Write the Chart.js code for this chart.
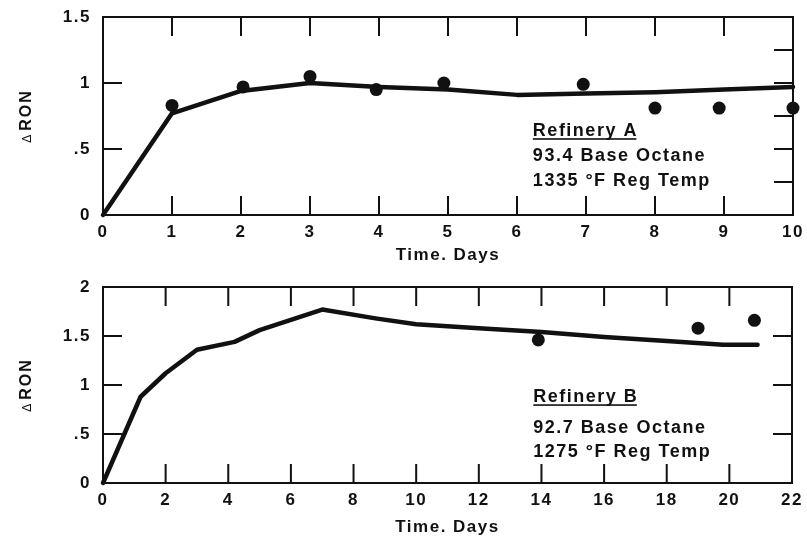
<!DOCTYPE html>
<html>
<head>
    <title>ΔRON vs Time</title>
    <script src="https://cdn.jsdelivr.net/npm/chart.js"></script>
    <style>
        body {
            margin: 0;
            background: #fff;
            width: 807px;
            height: 543px;
            overflow: hidden;
        }

        .chart-box {
            position: absolute;
            left: 0;
            width: 807px;
        }

        #box-a { top: 0; height: 270px; }
        #box-b { top: 270px; height: 273px; }
    </style>
</head>
<body>
    <div class="chart-box" id="box-a"><canvas id="chart-a" width="807" height="270"></canvas></div>
    <div class="chart-box" id="box-b"><canvas id="chart-b" width="807" height="273"></canvas></div>

    <script>
        // Refinery A - fitted curve and measured points
        const curveDaysA = [0, 1, 2, 3, 4, 5, 6, 7, 8, 9, 10];
        const curveRonA = [0, 0.77, 0.94, 1.0, 0.97, 0.95, 0.91, 0.92, 0.93, 0.95, 0.97];
        const pointDaysA = [1, 2.03, 3, 3.96, 4.94, 6.96, 8, 8.93, 10];
        const pointRonA = [0.83, 0.97, 1.05, 0.95, 1.0, 0.99, 0.81, 0.81, 0.81];
        const xTicksA = [0, 1, 2, 3, 4, 5, 6, 7, 8, 9, 10];
        const yTicksA = [0, 0.5, 1, 1.5];
        const yLabelsA = ['0', '.5', '1', '1.5'];
        const rightMarksA = [0.25, 0.5, 0.75, 1, 1.25];
        const notesA = ['Refinery A', '93.4 Base Octane', '1335 °F Reg Temp'];

        // Refinery B
        const curveDaysB = [0, 1.2, 2, 3, 4.2, 5, 7, 8.7, 10, 12, 14, 16, 18, 19.8, 20.9];
        const curveRonB = [0, 0.88, 1.12, 1.36, 1.44, 1.56, 1.77, 1.68, 1.62, 1.58, 1.54, 1.49, 1.45, 1.41, 1.41];
        const pointDaysB = [13.9, 19, 20.8];
        const pointRonB = [1.46, 1.58, 1.66];
        const xTicksB = [0, 2, 4, 6, 8, 10, 12, 14, 16, 18, 20, 22];
        const yTicksB = [0, 0.5, 1, 1.5, 2];
        const yLabelsB = ['0', '.5', '1', '1.5', '2'];
        const rightMarksB = [0.5, 1, 1.5];
        const notesB = ['Refinery B', '92.7 Base Octane', '1275 °F Reg Temp'];

        const FONT = '"Liberation Sans", Arial, sans-serif';
        const INK = '#111';
        const SPACING = '1.5px';

        const toPoints = (xs, ys) => xs.map((x, i) => ({ x: x, y: ys[i] }));

        // frame, inward tick marks, y title and the note block
        const framePlugin = {
            id: 'frame',
            beforeDraw(chart) {
                chart.ctx.letterSpacing = SPACING;
            },
            beforeDatasetsDraw(chart, args, opts) {
                const { ctx, chartArea: a, scales: { x, y } } = chart;
                const len = opts.tickLen;
                ctx.save();
                ctx.strokeStyle = INK;
                ctx.lineWidth = 2;
                ctx.strokeRect(a.left, a.top, a.right - a.left, a.bottom - a.top);
                ctx.beginPath();
                opts.xMarks.forEach(v => {
                    const px = x.getPixelForValue(v);
                    ctx.moveTo(px, a.bottom);
                    ctx.lineTo(px, a.bottom - len);
                    ctx.moveTo(px, a.top);
                    ctx.lineTo(px, a.top + len);
                });
                opts.leftMarks.forEach(v => {
                    const py = y.getPixelForValue(v);
                    ctx.moveTo(a.left, py);
                    ctx.lineTo(a.left + len, py);
                });
                opts.rightMarks.forEach(v => {
                    const py = y.getPixelForValue(v);
                    ctx.moveTo(a.right, py);
                    ctx.lineTo(a.right - len, py);
                });
                ctx.stroke();
                ctx.restore();
            },
            afterDraw(chart, args, opts) {
                const { ctx, chartArea: a, scales: { x, y } } = chart;
                ctx.save();
                ctx.letterSpacing = '2px';
                ctx.fillStyle = INK;

                // rotated "ΔRON" title with a small delta
                ctx.save();
                ctx.translate(opts.titleX, (a.top + a.bottom) / 2);
                ctx.rotate(-Math.PI / 2);
                ctx.textBaseline = 'middle';
                ctx.textAlign = 'left';
                ctx.font = '12px ' + FONT;
                const dw = ctx.measureText('Δ').width;
                ctx.font = 'bold 16px ' + FONT;
                const rw = ctx.measureText('RON').width;
                const start = -(dw + 2 + rw) / 2;
                ctx.font = '12px ' + FONT;
                ctx.fillText('Δ', start, 1);
                ctx.font = 'bold 16px ' + FONT;
                ctx.fillText('RON', start + dw + 2, 0);
                ctx.restore();

                // note block
                ctx.letterSpacing = SPACING;
                const nx = x.getPixelForValue(opts.noteX);
                let ny = y.getPixelForValue(opts.noteY);
                ctx.font = 'bold 18px ' + FONT;
                ctx.textAlign = 'left';
                ctx.textBaseline = 'middle';
                opts.notes.forEach((line, i) => {
                    ctx.fillText(line, nx, ny);
                    if (i === 0) {
                        const w = ctx.measureText(line).width - 1.5;
                        ctx.fillRect(nx, ny + 7, w, 1.6);
                        ny += opts.gapFirst;
                    } else {
                        ny += opts.gap;
                    }
                });
                ctx.restore();
            }
        };

        function makeChart(id, cfg) {
            const ctx = document.getElementById(id).getContext('2d');
            return new Chart(ctx, {
                type: 'scatter',
                data: {
                    datasets: [
                        {
                            data: toPoints(cfg.curveDays, cfg.curveRon),
                            showLine: true,
                            borderColor: INK,
                            borderWidth: 4.5,
                            borderJoinStyle: 'round',
                            borderCapStyle: 'round',
                            pointRadius: 0,
                            tension: 0,
                            clip: false
                        },
                        {
                            data: toPoints(cfg.pointDays, cfg.pointRon),
                            showLine: false,
                            backgroundColor: INK,
                            borderColor: INK,
                            borderWidth: 0,
                            pointRadius: 6.5,
                            clip: false
                        }
                    ]
                },
                options: {
                    responsive: false,
                    animation: false,
                    layout: {
                        padding: { left: 0, right: cfg.padRight, top: cfg.padTop, bottom: 0 }
                    },
                    plugins: {
                        legend: { display: false },
                        tooltip: { enabled: false },
                        frame: {
                            tickLen: 19,
                            xMarks: cfg.xTicks.slice(1, -1),
                            leftMarks: cfg.yTicks.slice(1, -1),
                            rightMarks: cfg.rightMarks,
                            titleX: 27,
                            notes: cfg.notes,
                            noteX: cfg.noteX,
                            noteY: cfg.noteY,
                            gapFirst: cfg.gapFirst,
                            gap: cfg.gap
                        }
                    },
                    scales: {
                        x: {
                            type: 'linear',
                            min: 0,
                            max: cfg.xTicks[cfg.xTicks.length - 1],
                            afterBuildTicks: s => { s.ticks = cfg.xTicks.map(v => ({ value: v })); },
                            afterFit: s => {
                                s.height = cfg.xHeight;
                                s.paddingLeft = 0;
                                s.paddingRight = 0;
                            },
                            grid: { display: false, drawTicks: false },
                            border: { display: false },
                            ticks: {
                                color: INK,
                                padding: 7,
                                maxRotation: 0,
                                autoSkip: false,
                                font: { family: FONT, size: 17, weight: 'bold' },
                                callback: v => String(v)
                            },
                            title: {
                                display: true,
                                text: 'Time. Days',
                                color: INK,
                                font: { family: FONT, size: 17, weight: 'bold', lineHeight: 1.2 },
                                padding: { top: 0, bottom: cfg.titlePad }
                            }
                        },
                        y: {
                            min: 0,
                            max: cfg.yTicks[cfg.yTicks.length - 1],
                            afterBuildTicks: s => { s.ticks = cfg.yTicks.map(v => ({ value: v })); },
                            afterFit: s => {
                                s.width = 103;
                                s.paddingTop = 0;
                                s.paddingBottom = 0;
                            },
                            grid: { display: false, drawTicks: false },
                            border: { display: false },
                            ticks: {
                                color: INK,
                                padding: 12,
                                autoSkip: false,
                                font: { family: FONT, size: 17, weight: 'bold' },
                                callback: (v, i) => cfg.yLabels[i]
                            }
                        }
                    }
                },
                plugins: [framePlugin]
            });
        }

        makeChart('chart-a', {
            curveDays: curveDaysA, curveRon: curveRonA,
            pointDays: pointDaysA, pointRon: pointRonA,
            xTicks: xTicksA, yTicks: yTicksA, yLabels: yLabelsA,
            rightMarks: rightMarksA, notes: notesA,
            noteX: 6.23, noteY: 0.635, gapFirst: 25, gap: 24.5,
            padTop: 17, padRight: 14, xHeight: 55, titlePad: 4
        });

        makeChart('chart-b', {
            curveDays: curveDaysB, curveRon: curveRonB,
            pointDays: pointDaysB, pointRon: pointRonB,
            xTicks: xTicksB, yTicks: yTicksB, yLabels: yLabelsB,
            rightMarks: rightMarksB, notes: notesB,
            noteX: 13.74, noteY: 0.875, gapFirst: 31, gap: 23.5,
            padTop: 17, padRight: 15, xHeight: 60, titlePad: 5
        });
    </script>
</body>
</html>
